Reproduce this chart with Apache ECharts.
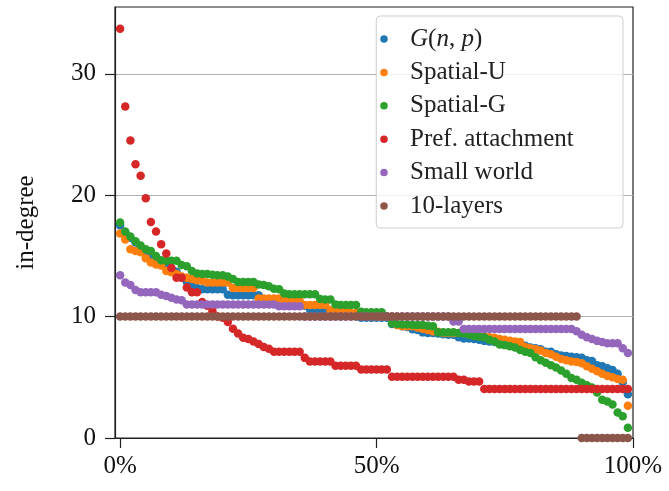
<!DOCTYPE html>
<html>
<head>
<meta charset="utf-8">
<script src="https://cdn.jsdelivr.net/npm/echarts@6/dist/echarts.min.js"></script>
<style>html,body{margin:0;padding:0;background:#fff}#c{width:669px;height:491px}</style>
</head>
<body>
<div id="c"></div>
<script>
// rank position of each node, in percent
const xPct = [0,1,2,3,4,5,6,7,8,9,10,11,12,13,14,15,16,17,18,19,20,21,22,23,24,25,26,27,28,29,30,31,32,33,34,35,36,37,38,39,40,41,42,43,44,45,46,47,48,49,50,51,52,53,54,55,56,57,58,59,60,61,62,63,64,65,66,67,68,69,70,71,72,73,74,75,76,77,78,79,80,81,82,83,84,85,86,87,88,89,90,91,92,93,94,95,96,97,98,99];

const seriesNames = ['G(n,p)', 'Spatial-U', 'Spatial-G', 'Pref. attachment', 'Small world', '10-layers'];

const gnp = [17.5,16.9,16.5,16.1,15.7,15.3,15.0,14.8,14.4,14.25,
  14.0,13.7,13.2,12.85,12.5,12.35,12.25,12.25,12.25,12.25,
  12.25,11.8,11.75,11.75,11.75,11.75,11.75,11.75,11.3,11.3,
  11.3,11.3,11.1,10.9,10.9,10.9,10.9,10.6,10.6,10.6,
  10.6,10.4,10.4,10.2,10.2,10.2,10.2,9.9,9.9,9.9,
  9.9,9.9,9.9,9.4,9.3,9.2,9.15,8.95,8.9,8.7,
  8.65,8.65,8.6,8.55,8.5,8.5,8.3,8.2,8.2,8.15,
  8.1,8.0,7.95,7.9,7.9,7.9,7.85,7.8,7.65,7.6,
  7.45,7.4,7.3,7.1,7.1,6.9,6.8,6.75,6.7,6.65,
  6.6,6.4,6.35,6.0,5.9,5.75,5.6,5.3,4.6,3.6];

const spatialU = [16.85,16.35,15.55,15.4,15.3,14.8,14.45,14.3,14.2,13.75,
  13.65,13.5,13.3,13.2,13.1,13.0,12.95,12.8,12.8,12.8,
  12.8,12.8,12.35,12.35,12.35,12.35,12.35,11.5,11.5,11.5,
  11.5,11.5,11.3,11.3,11.3,11.3,10.95,10.95,10.95,10.95,
  10.95,10.55,10.55,10.55,10.55,10.3,10.3,10.3,10.3,10.3,
  10.0,10.0,10.0,10.0,9.3,9.2,9.2,9.2,9.1,9.0,
  8.9,8.8,8.75,8.65,8.65,8.65,8.65,8.65,8.65,8.45,
  8.4,8.35,8.3,8.25,8.15,8.1,8.0,7.95,7.9,7.5,
  7.4,7.3,7.2,7.0,6.9,6.7,6.5,6.4,6.3,6.25,
  6.15,5.9,5.7,5.5,5.3,5.1,5.0,4.85,4.8,2.65];

const spatialG = [17.75,17.0,16.6,16.2,15.85,15.55,15.4,15.0,14.65,14.6,
  14.6,14.6,14.25,14.15,13.75,13.55,13.5,13.5,13.45,13.4,
  13.4,13.3,13.1,12.85,12.85,12.85,12.85,12.65,12.6,12.5,
  12.3,12.25,11.9,11.85,11.85,11.85,11.85,11.85,11.85,11.45,
  11.4,11.4,11.0,10.95,10.95,10.95,10.95,10.4,10.35,10.35,
  10.35,10.35,10.0,9.45,9.4,9.35,9.35,9.3,9.3,9.3,
  9.25,9.2,8.7,8.7,8.7,8.7,8.65,8.6,8.5,8.4,
  8.35,8.3,8.1,7.95,7.7,7.65,7.55,7.45,7.25,7.1,
  7.0,6.65,6.4,6.2,6.0,5.8,5.55,5.3,4.95,4.8,
  4.55,4.35,4.15,3.75,3.15,3.0,2.75,2.1,1.8,0.85];

const prefAttach = [33.7,27.3,24.5,22.55,21.6,19.75,17.8,17.0,15.95,15.2,
  14.0,13.2,13.2,12.4,12.0,12.0,11.2,10.9,10.45,10.0,
  9.9,9.55,9.0,8.6,8.25,8.15,7.95,7.75,7.5,7.35,
  7.1,7.1,7.1,7.1,7.1,7.1,6.6,6.3,6.3,6.3,
  6.3,6.3,5.95,5.95,5.95,5.95,5.95,5.65,5.65,5.65,
  5.65,5.65,5.65,5.05,5.05,5.05,5.05,5.05,5.05,5.05,
  5.05,5.05,5.05,5.05,5.05,5.05,4.8,4.8,4.65,4.65,
  4.65,4.03,4.03,4.03,4.03,4.03,4.03,4.03,4.03,4.03,
  4.03,4.03,4.03,4.03,4.03,4.03,4.03,4.03,4.03,4.03,
  4.03,4.03,4.03,4.03,4.03,4.03,4.03,4.03,4.03,4.03];

const smallWorld = [13.4,12.8,12.6,12.2,12.0,12.0,12.0,12.0,11.8,11.7,
  11.55,11.4,11.35,11.0,11.0,11.0,11.0,11.0,11.0,11.0,
  11.0,11.0,11.0,11.0,11.0,11.0,11.0,11.0,11.0,11.0,
  11.0,10.85,10.85,10.85,10.85,10.85,10.0,10.0,10.0,10.0,
  10.0,10.0,10.0,10.0,10.0,10.0,10.0,10.0,10.0,10.0,
  10.0,10.0,10.0,10.0,10.0,10.0,10.0,10.0,10.0,10.0,
  10.0,10.0,10.0,10.0,10.0,9.6,9.6,8.97,8.97,8.97,
  8.97,8.97,8.97,8.97,8.97,8.97,8.97,8.97,8.97,8.97,
  8.97,8.97,8.97,8.97,8.97,8.97,8.97,8.97,8.97,8.8,
  8.5,8.3,8.15,8.0,7.9,7.8,7.8,7.8,7.4,7.0];

const tenLayers = [10,10,10,10,10,10,10,10,10,10,
  10,10,10,10,10,10,10,10,10,10,
  10,10,10,10,10,10,10,10,10,10,
  10,10,10,10,10,10,10,10,10,10,
  10,10,10,10,10,10,10,10,10,10,
  10,10,10,10,10,10,10,10,10,10,
  10,10,10,10,10,10,10,10,10,10,
  10,10,10,10,10,10,10,10,10,10,
  10,10,10,10,10,10,10,10,10,10,
  0,0,0,0,0,0,0,0,0,0];

const yTicks = [0, 10, 20, 30];
const xTicks = [0, 50, 100];
const colors = ['#1f77b4', '#ff7f0e', '#2ca02c', '#d62728', '#9467bd', '#8c564b'];

const allValues = [gnp, spatialU, spatialG, prefAttach, smallWorld, tenLayers];
const FONT = 'Liberation Serif';

const chart = echarts.init(document.getElementById('c'), null, {renderer: 'canvas'});
chart.setOption({
  animation: false,
  backgroundColor: '#ffffff',
  grid: {left: 115, right: 36, top: 7, bottom: 53, show: true, borderColor: '#222', borderWidth: 1.2, backgroundColor: 'transparent'},
  xAxis: {
    type: 'value', min: -1, max: 100,
    splitLine: {show: false},
    axisLine: {show: true, onZero: false, lineStyle: {color: '#222', width: 1.2}},
    axisTick: {show: true, length: 10, customValues: xTicks, lineStyle: {color: '#222', width: 1.2}},
    axisLabel: {customValues: xTicks, formatter: v => v + '%', color: '#111', fontFamily: FONT, fontSize: 25, margin: 16}
  },
  yAxis: {
    type: 'value', min: 0, max: 35.5, interval: 10,
    name: 'in-degree', nameLocation: 'middle', nameGap: 76,
    nameTextStyle: {fontFamily: FONT, fontSize: 25, color: '#111'},
    splitLine: {show: true, lineStyle: {color: '#b0b0b0', width: 1}},
    axisLine: {show: true, onZero: false, lineStyle: {color: '#222', width: 1.2}},
    axisTick: {show: true, length: 10, customValues: yTicks, lineStyle: {color: '#222', width: 1.2}},
    axisLabel: {customValues: yTicks, color: '#111', fontFamily: FONT, fontSize: 25, margin: 19}
  },
  legend: {
    orient: 'vertical', right: 46, top: 16,
    padding: [8, 15, 7, 4],
    itemWidth: 14, itemHeight: 7.5, itemGap: 3.4,
    icon: 'circle',
    backgroundColor: 'rgba(255,255,255,0.8)',
    borderColor: '#cccccc', borderWidth: 1, borderRadius: 4,
    data: seriesNames,
    formatter: n => n === 'G(n,p)' ? '{it|G}{rm|(}{it|n}{rm|, }{it|p}{rm|)}' : n,
    textStyle: {
      fontFamily: FONT, fontSize: 25, color: '#222', lineHeight: 30,
      width: 198, padding: [0, 0, 0, 14],
      rich: {
        it: {fontFamily: FONT, fontSize: 25, fontStyle: 'italic', color: '#222', lineHeight: 30},
        rm: {fontFamily: FONT, fontSize: 25, color: '#222', lineHeight: 30}
      }
    }
  },
  series: seriesNames.map((name, k) => ({
    name: name,
    type: 'scatter',
    symbol: 'circle',
    symbolSize: 8.5,
    clip: false,
    itemStyle: {color: colors[k], opacity: 1},
    data: xPct.map((x, i) => [x, allValues[k][i]])
  }))
});
</script>
</body>
</html>
